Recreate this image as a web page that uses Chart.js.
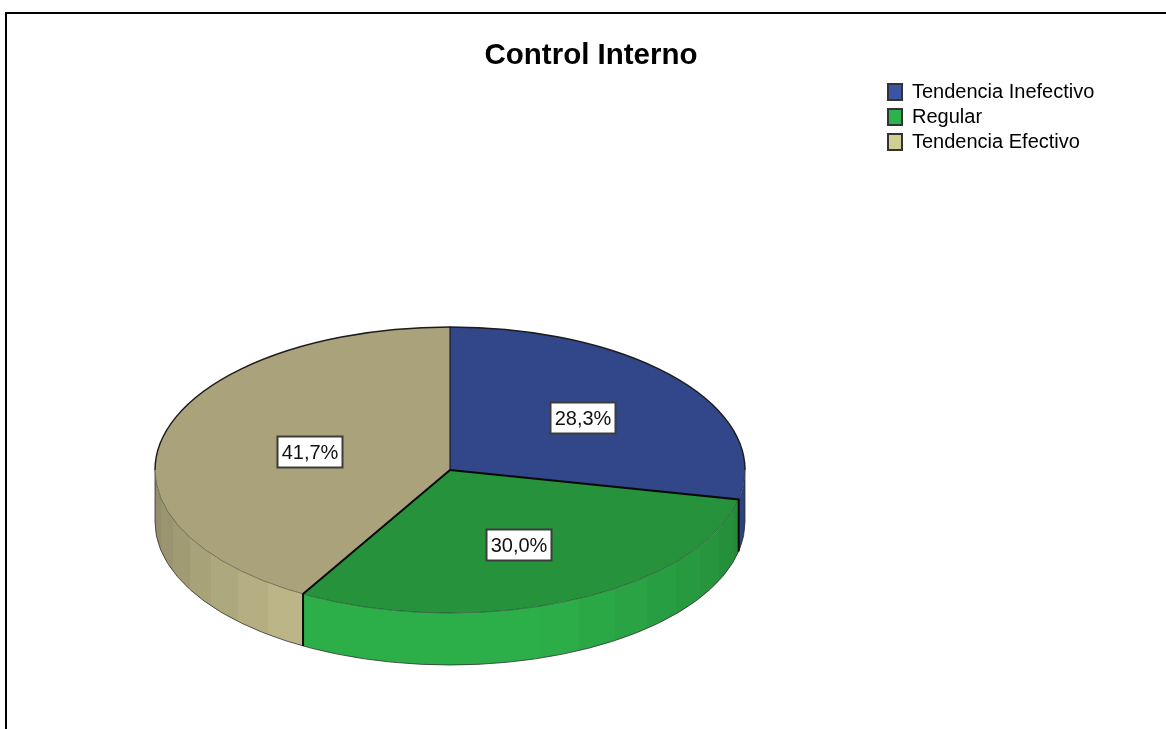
<!DOCTYPE html>
<html>
<head>
<meta charset="utf-8">
<title>Control Interno</title>
<script src="https://cdn.jsdelivr.net/npm/chart.js@4"></script>
<style>
    html, body { margin: 0; padding: 0; background: #fff; overflow: hidden; }
    #wrap { position: relative; width: 1166px; height: 729px; }
    #frame { position: absolute; left: 5px; top: 12px; right: 0; bottom: 0; border-left: 2px solid #000; border-top: 2px solid #000; pointer-events: none; }
    canvas { position: absolute; left: 0; top: 0; }
</style>
</head>
<body>
<div id="wrap">
    <canvas id="pie" width="1166" height="729"></canvas>
    <div id="frame"></div>
</div>
<script>
// --- Data ---
const categories = ['Tendencia Inefectivo', 'Regular', 'Tendencia Efectivo'];
const percentages = [28.3, 30.0, 41.7];

// --- Colours ---
const topColors = ['#32478a', '#26933c', '#a9a27a'];
const sideColors = [[58, 84, 160], [44, 174, 72], [191, 184, 137]];
const legendColors = ['#3a55a8', '#2db34b', '#d2cd92'];

// --- Geometry of the tilted disc ---
const disc = { x: 450, y: 470, rx: 295, ry: 143, depth: 52 };
const labelReach = [0.58, 0.575, 0.49];
const BAND = 8 * Math.PI / 180;

// brightness of the rim, brightest towards the front-left
function rimShade(angle) {
    const deg = angle * 180 / Math.PI;
    if (deg > 120) return 1 - (deg - 120) / 60 * 0.26;
    if (deg > 70) return 1;
    return 0.76 + deg / 70 * 0.24;
}

// rim is filled with hard-edged bands so it reads as faceted
function rimFill(ctx, rgb, a0, a1) {
    const xAt = a => disc.x + disc.rx * Math.cos(a);
    const grad = ctx.createLinearGradient(disc.x - disc.rx, 0, disc.x + disc.rx, 0);
    const span = 2 * disc.rx;
    const first = Math.floor(a0 / BAND);
    const last = Math.ceil(a1 / BAND);
    for (let i = last - 1; i >= first; i--) {
        const from = Math.max(i * BAND, 0);
        const to = Math.min((i + 1) * BAND, Math.PI);
        const s = rimShade((from + to) / 2);
        const col = `rgb(${rgb.map(c => Math.round(c * s)).join(',')})`;
        grad.addColorStop(Math.min(1, Math.max(0, (xAt(to) - disc.x + disc.rx) / span)), col);
        grad.addColorStop(Math.min(1, Math.max(0, (xAt(from) - disc.x + disc.rx) / span)), col);
    }
    return grad;
}

const tiltedDisc = {
    id: 'tiltedDisc',
    afterLayout(chart) {
        // title and legend sit at fixed spots, not where the layout put them
        const title = chart.titleBlock;
        title.left += 8;
        title.right += 8;
        const legend = chart.legend;
        const h = legend.height;
        const w = legend.width;
        legend.left = 883;
        legend.right = legend.left + w;
        legend.top = 77;
        legend.bottom = legend.top + h;
    },
    beforeDatasetsDraw(chart) {
        const ctx = chart.ctx;
        const arcs = chart.getDatasetMeta(0).data;
        ctx.save();
        arcs.forEach((arc, i) => {
            const a0 = Math.max(arc.startAngle, 0);
            const a1 = Math.min(arc.endAngle, Math.PI);
            if (a1 <= a0) return;
            ctx.beginPath();
            ctx.ellipse(disc.x, disc.y, disc.rx, disc.ry, 0, a0, a1);
            ctx.ellipse(disc.x, disc.y + disc.depth, disc.rx, disc.ry, 0, a1, a0, true);
            ctx.closePath();
            ctx.fillStyle = rimFill(ctx, sideColors[i], a0, a1);
            ctx.fill();
        });
        // bottom outline of the rim
        ctx.beginPath();
        ctx.moveTo(disc.x - disc.rx, disc.y);
        ctx.lineTo(disc.x - disc.rx, disc.y + disc.depth);
        ctx.ellipse(disc.x, disc.y + disc.depth, disc.rx, disc.ry, 0, Math.PI, 0, true);
        ctx.lineTo(disc.x + disc.rx, disc.y);
        ctx.strokeStyle = 'rgba(40,40,40,0.75)';
        ctx.lineWidth = 1;
        ctx.stroke();
        ctx.restore();

        // squash the library's circular arcs into the tilted ellipse
        const first = arcs[0];
        ctx.save();
        ctx.translate(disc.x, disc.y);
        ctx.scale(disc.rx / first.outerRadius, disc.ry / first.outerRadius);
        ctx.translate(-first.x, -first.y);
    },
    afterDatasetsDraw(chart) {
        const ctx = chart.ctx;
        ctx.restore();
        const arcs = chart.getDatasetMeta(0).data;

        // outer edge of the top face
        ctx.save();
        ctx.beginPath();
        ctx.ellipse(disc.x, disc.y, disc.rx, disc.ry, 0, Math.PI, 2 * Math.PI);
        ctx.strokeStyle = '#1c1c1c';
        ctx.lineWidth = 1.5;
        ctx.stroke();
        ctx.beginPath();
        ctx.ellipse(disc.x, disc.y, disc.rx, disc.ry, 0, 0, Math.PI);
        ctx.strokeStyle = 'rgba(30,30,30,0.45)';
        ctx.lineWidth = 1;
        ctx.stroke();

        // slice separators, with the drop on the rim where they face front
        arcs.forEach(arc => {
            const a = arc.endAngle;
            const ex = disc.x + disc.rx * Math.cos(a);
            const ey = disc.y + disc.ry * Math.sin(a);
            const front = Math.sin(a) > 0;
            ctx.beginPath();
            ctx.moveTo(disc.x, disc.y);
            ctx.lineTo(ex, ey);
            if (front) ctx.lineTo(ex, ey + disc.depth);
            ctx.strokeStyle = '#0a0a0a';
            ctx.lineWidth = front ? 2 : 1;
            ctx.stroke();
        });

        // value tags
        ctx.font = '20px "Liberation Sans", Arial, sans-serif';
        ctx.textAlign = 'center';
        ctx.textBaseline = 'middle';
        arcs.forEach((arc, i) => {
            const mid = (arc.startAngle + arc.endAngle) / 2;
            const lx = Math.round(disc.x + disc.rx * labelReach[i] * Math.cos(mid));
            const ly = Math.round(disc.y + disc.ry * labelReach[i] * Math.sin(mid));
            const text = percentages[i].toFixed(1).replace('.', ',') + '%';
            ctx.fillStyle = '#fff';
            ctx.fillRect(lx - 32.5, ly - 15.5, 65, 31);
            ctx.strokeStyle = '#3c3c3c';
            ctx.lineWidth = 2;
            ctx.strokeRect(lx - 32.5, ly - 15.5, 65, 31);
            ctx.fillStyle = '#111';
            ctx.fillText(text, lx, ly + 1);
        });
        ctx.restore();
    }
};

new Chart(document.getElementById('pie'), {
    type: 'pie',
    data: {
        labels: categories,
        datasets: [{
            data: percentages,
            backgroundColor: topColors,
            borderWidth: 0
        }]
    },
    options: {
        responsive: false,
        animation: false,
        events: [],
        plugins: {
            title: {
                display: true,
                text: 'Control Interno',
                color: '#000',
                font: { family: '"Liberation Sans", Arial, sans-serif', size: 29.5, weight: 'bold' },
                padding: { top: 38, bottom: 10 }
            },
            legend: {
                position: 'right',
                align: 'start',
                labels: {
                    boxWidth: 14,
                    boxHeight: 16,
                    padding: 5,
                    color: '#111',
                    font: { family: '"Liberation Sans", Arial, sans-serif', size: 20 },
                    generateLabels: () => categories.map((name, i) => ({
                        text: name,
                        fillStyle: legendColors[i],
                        strokeStyle: '#333',
                        lineWidth: 2,
                        hidden: false,
                        index: i
                    }))
                }
            },
            tooltip: { enabled: false }
        }
    },
    plugins: [tiltedDisc]
});
</script>
</body>
</html>
